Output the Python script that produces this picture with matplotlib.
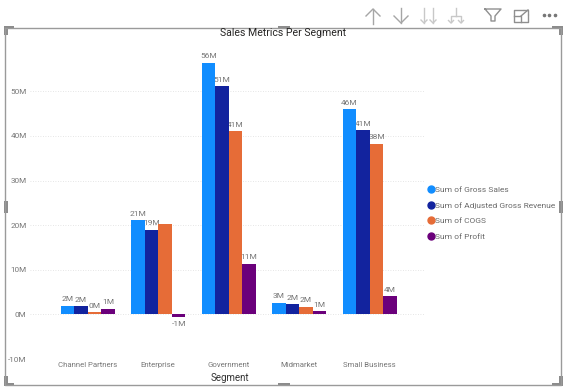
#!/usr/bin/env python
# -*- coding: utf-8 -*-
import numpy as np
import matplotlib
matplotlib.use('Agg')
import matplotlib.pyplot as plt
from matplotlib.lines import Line2D

W, H = 569, 391

segments = ['Channel Partners', 'Enterprise', 'Government', 'Midmarket', 'Small Business']
gross_sales = [1.9, 21.1, 56.4, 2.6, 46.0]
adj_revenue = [1.8, 19.0, 51.1, 2.3, 41.3]
cogs = [0.5, 20.2, 41.1, 1.7, 38.3]
profit = [1.3, -0.6, 11.4, 0.7, 4.1]

gross_labels = ['2M', '21M', '56M', '3M', '46M']
adj_labels = ['2M', '19M', '51M', '2M', '41M']
cogs_labels = ['0M', '', '41M', '2M', '38M']
profit_labels = ['1M', '-1M', '11M', '1M', '4M']

series_names = ['Sum of Gross Sales', 'Sum of Adjusted Gross Revenue', 'Sum of COGS', 'Sum of Profit']
colors = ['#118DFF', '#12239E', '#E66C37', '#6B007B']
y_ticks = [-10, 0, 10, 20, 30, 40, 50]
y_tick_labels = ['-10M', '0M', '10M', '20M', '30M', '40M', '50M']

plt.rcParams['font.family'] = ['Roboto', 'DejaVu Sans']

fig = plt.figure(figsize=(W / 100, H / 100), dpi=100)

# plot area, given in pixels of the screenshot
left, right, top, bottom = 30, 425, 50, 359
ax = fig.add_axes([left / W, 1 - bottom / H, (right - left) / W, (bottom - top) / H])

x = np.arange(len(segments))
width = 0.193
all_values = [gross_sales, adj_revenue, cogs, profit]
all_labels = [gross_labels, adj_labels, cogs_labels, profit_labels]
for i, (vals, labs) in enumerate(zip(all_values, all_labels)):
    bars = ax.bar(x + (i - 1.5) * width, vals, width, color=colors[i], zorder=3)
    ax.bar_label(bars, labels=labs, padding=2.5, fontsize=6, color='#777777', zorder=2)

px_per_group = 70.5
ax.set_xlim((left - 87.75) / px_per_group, (right - 87.75) / px_per_group)
ax.set_ylim(-10, (314.3 - top) / 4.46)
ax.set_xticks(x, segments)
ax.set_yticks(y_ticks, y_tick_labels)
ax.tick_params(length=0, labelsize=5.9, labelcolor='#777777')
ax.tick_params(axis='x', labelsize=5.6, pad=2)
ax.tick_params(axis='y', pad=2.5)
ax.grid(axis='y', linestyle=(0, (1, 2)), linewidth=0.6, color='#dddddd', zorder=1)
ax.set_axisbelow(True)
for s in ax.spines.values():
    s.set_visible(False)
ax.set_xlabel('Segment', fontsize=7, color='#333333')
ax.xaxis.set_label_coords((230 - left) / (right - left), -(378 - bottom) / (bottom - top), )
ax.xaxis.label.set_va('center')

handles = [Line2D([], [], linestyle='', marker='o', markersize=5, color=c) for c in colors]
fig.legend(handles, series_names, loc='center left', bbox_to_anchor=(427 / W, 1 - 213 / H),
           frameon=False, fontsize=6, labelcolor='#6a6a6a', handlelength=0.9,
           handletextpad=0.1, labelspacing=1.05, borderpad=0, borderaxespad=0)

fig.text(283.5 / W, 1 - 33 / H, 'Sales Metrics Per Segment', ha='center', va='center',
         fontsize=7.6, color='#252423')

# visual frame and toolbar, drawn in screenshot pixels
ui = fig.add_axes([0, 0, 1, 1], facecolor='none')
ui.set_xlim(0, W)
ui.set_ylim(H, 0)
ui.axis('off')

frame = '#9a9a9a'
ui.plot([5.5, 561.5, 561.5, 5.5, 5.5], [27.5, 27.5, 385, 385, 27.5], color=frame, lw=1)
for hx, hy, hw, hh in [(4, 26, 10, 3), (4, 26, 4, 9), (552, 26, 11, 3), (559, 26, 4, 9),
                       (4, 376, 4, 10), (4, 383, 10, 3), (559, 376, 4, 10), (552, 383, 11, 3),
                       (278, 26, 12, 3), (278, 383, 12, 3), (4, 201, 4, 12), (559, 201, 4, 12)]:
    ui.fill([hx, hx + hw, hx + hw, hx], [hy, hy, hy + hh, hy + hh], color='#8c8c8c', lw=0)

icon = '#a6a6a6'
faint = '#c8c8c8'
dark = '#8f8f8f'
ui.plot([373, 373], [9, 24], color=icon, lw=1)
ui.plot([366, 373, 380], [16, 9, 16], color=icon, lw=1)
ui.plot([401, 401], [8, 23], color=icon, lw=1)
ui.plot([394, 401, 408], [16, 23, 16], color=icon, lw=1)
for ax_x in [424, 433]:
    ui.plot([ax_x, ax_x], [8, 23], color=faint, lw=1)
    ui.plot([ax_x - 3, ax_x, ax_x + 3], [20, 23, 20], color=faint, lw=1)
ui.plot([456, 456], [8, 16], color=faint, lw=1)
ui.plot([451, 451, 461, 461], [22, 16, 16, 22], color=faint, lw=1)
ui.plot([448.5, 451, 453.5], [20.5, 23, 20.5], color=faint, lw=1)
ui.plot([458.5, 461, 463.5], [20.5, 23, 20.5], color=faint, lw=1)
ui.plot([485, 501, 495, 495, 491, 491, 485], [9, 9, 16, 21, 21, 16, 9], color=dark, lw=1)
ui.plot([523, 514.5, 514.5, 528, 528], [10, 10, 22, 22, 15], color=dark, lw=1)
ui.plot([514.5, 521, 521], [16, 16, 22], color=dark, lw=1)
ui.plot([521, 528], [16, 10], color=dark, lw=1)
ui.plot([524, 528, 528], [10, 10, 14], color=dark, lw=1)
ui.plot([544, 549.5, 555], [15, 15, 15], linestyle='', marker='o', markersize=1.6, color='#777777')

fig.savefig('out.png', dpi=100)
